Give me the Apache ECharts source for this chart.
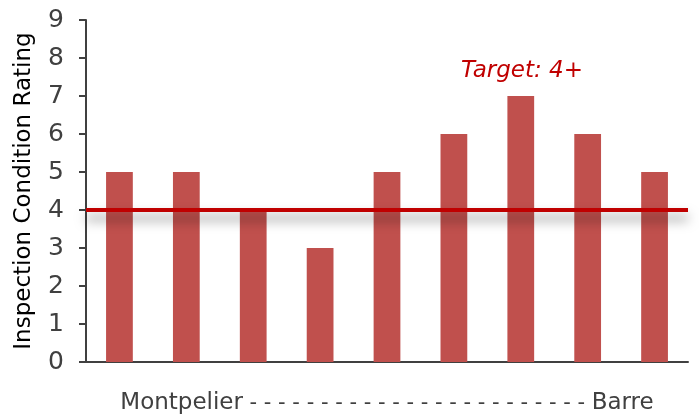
<!DOCTYPE html>
<html>
<head>
<meta charset="utf-8">
<script src="https://cdn.jsdelivr.net/npm/echarts@6/dist/echarts.min.js"></script>
<style>
	html, body { margin: 0; padding: 0; background: #fff; }
	#chart { width: 699px; height: 415px; }
</style>
</head>
<body>
<div id="chart"></div>
<script>
const categories = ['1', '2', '3', '4', '5', '6', '7', '8', '9'];
const ratings = [5, 5, 4, 3, 5, 6, 7, 6, 5];
const targetValue = 4;
const yTicks = [0, 9, 1];
const routeEnds = ['Montpelier', 'Barre'];

const chart = echarts.init(document.getElementById('chart'));
const dashes = ' ' + new Array(24).fill('-').join(' ') + ' ';
const option = {
	animation: false,
	grid: {
		left: 86,
		right: 11,
		top: 20,
		bottom: 53,
		outerBoundsMode: 'none'
	},
	xAxis: {
		type: 'category',
		data: categories,
		name: '{a|' + routeEnds[0] + '}{b|' + dashes + '}{a|' + routeEnds[1] + '}',
		nameLocation: 'middle',
		nameGap: 30,
		nameTextStyle: {
			color: '#404040',
			fontFamily: 'DejaVu Sans',
			rich: {
				a: { fontSize: 23, color: '#404040', fontFamily: 'DejaVu Sans' },
				b: { fontSize: 21, color: '#404040', fontFamily: 'DejaVu Sans' }
			}
		},
		axisLine: { lineStyle: { color: '#404040', width: 2 } },
		axisTick: { show: false },
		axisLabel: { show: false }
	},
	yAxis: {
		type: 'value',
		min: yTicks[0],
		max: yTicks[1],
		interval: yTicks[2],
		name: 'Inspection Condition Rating',
		nameLocation: 'middle',
		nameGap: 50,
		nameTextStyle: {
			color: '#000',
			fontSize: 23,
			fontFamily: 'DejaVu Sans'
		},
		axisLine: { show: true, lineStyle: { color: '#404040', width: 2 } },
		axisTick: { show: true, length: 7, lineStyle: { color: '#404040', width: 2 } },
		axisLabel: {
			color: '#404040',
			fontSize: 25,
			margin: 22,
			fontFamily: 'DejaVu Sans'
		},
		splitLine: { show: false }
	},
	series: [{
		type: 'bar',
		data: ratings,
		barWidth: '40%',
		itemStyle: { color: '#c0504d' },
		markLine: {
			silent: true,
			symbol: 'none',
			label: { show: false },
			lineStyle: {
				color: '#c00000',
				width: 4,
				type: 'solid',
				shadowColor: 'rgba(0,0,0,0.5)',
				shadowBlur: 12,
				shadowOffsetY: 8
			},
			data: [{ yAxis: targetValue }]
		}
	}],
	graphic: [{
		type: 'text',
		left: 461,
		top: 60,
		style: {
			text: 'Target: ' + targetValue + '+',
			fill: '#c00000',
			fontSize: 23,
			fontStyle: 'italic',
			fontFamily: 'DejaVu Sans'
		}
	}]
};
chart.setOption(option);
</script>
</body>
</html>
